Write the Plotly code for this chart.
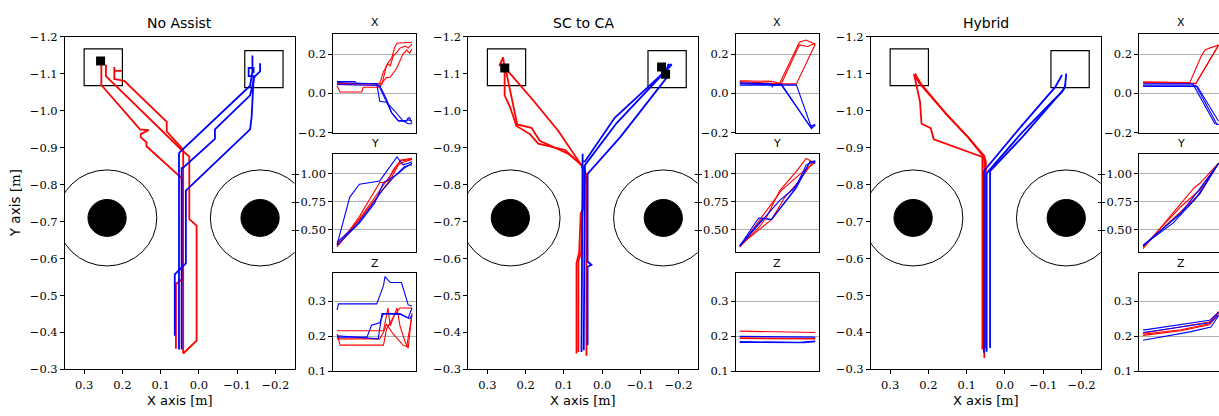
import plotly.graph_objects as go

W, H = 1219, 416

# ---------------- main trajectory panels (data in metres) ----------------
panel_titles = ["No Assist", "SC to CA", "Hybrid"]

na_red_x = [
    [0.060, 0.060, 0.044, 0.044, 0.041, 0.045, 0.137, 0.137, 0.152, 0.152, 0.131, 0.154, 0.255, 0.255],
    [0.041, 0.006, 0.006, 0.025, 0.025, 0.045, 0.243, 0.243],
    [0.041, 0.041, 0.084, 0.084, 0.195, 0.221, 0.221, 0.201, 0.221, 0.221],
]
na_red_y = [
    [-0.356, -0.531, -0.544, -0.626, -0.635, -0.818, -0.904, -0.915, -0.928, -0.937, -0.948, -0.950, -1.070, -1.125],
    [-0.343, -0.378, -0.689, -0.707, -0.876, -0.894, -1.094, -1.125],
    [-0.343, -0.895, -0.944, -0.970, -1.081, -1.086, -1.108, -1.108, -1.108, -1.119],
]
na_blue_x = [
    [0.052, 0.052, 0.049, -0.134, -0.140, -0.140],
    [0.045, 0.045, 0.041, -0.042, -0.042, -0.134, -0.143, -0.143, -0.130, -0.130, -0.143, -0.143],
    [0.063, 0.063, 0.034, 0.034, -0.134, -0.138, -0.143, -0.147, -0.160, -0.160],
]
na_blue_y = [
    [-0.354, -0.885, -0.889, -1.068, -1.107, -1.150],
    [-0.354, -0.845, -0.846, -0.924, -0.950, -1.042, -1.080, -1.094, -1.094, -1.116, -1.116, -1.102],
    [-0.391, -0.557, -0.587, -0.784, -0.950, -0.985, -1.086, -1.094, -1.107, -1.129],
]
na_goal_x = [0.257]
na_goal_y = [-1.135]

sc_red_x = [
    [0.067, 0.067, 0.060, 0.056, 0.049, 0.049, 0.054, 0.097, 0.167, 0.189, 0.224, 0.241, 0.255, 0.255, 0.268, 0.259, 0.255],
    [0.041, 0.041, 0.049, 0.115, 0.180, 0.250],
    [0.062, 0.062, 0.055, 0.052, 0.045, 0.049, 0.089, 0.163, 0.185, 0.222, 0.252, 0.255],
]
sc_red_y = [
    [-0.343, -0.587, -0.618, -0.722, -0.736, -0.836, -0.854, -0.894, -0.911, -0.937, -0.959, -1.011, -1.042, -1.116, -1.124, -1.145, -1.116],
    [-0.337, -0.827, -0.845, -0.946, -1.028, -1.112],
    [-0.347, -0.592, -0.618, -0.720, -0.832, -0.849, -0.884, -0.919, -0.954, -0.963, -1.111, -1.116],
]
sc_blue_x = [
    [0.054, 0.051, 0.051, 0.051, 0.045, -0.033, -0.160],
    [0.048, 0.045, -0.038, -0.169, -0.182, -0.173, -0.169],
    [0.038, 0.038, 0.028, 0.038, 0.038, 0.036, -0.047, -0.169],
]
sc_blue_y = [
    [-0.347, -0.862, -0.884, -0.862, -0.863, -0.981, -1.103],
    [-0.352, -0.853, -0.967, -1.112, -1.125, -1.125, -1.112],
    [-0.365, -0.578, -0.583, -0.592, -0.827, -0.832, -0.928, -1.090],
]
sc_goal_x = [0.2546, -0.1555, -0.166]
sc_goal_y = [-1.116, -1.119, -1.099]

hy_red_x = [
    [0.054, 0.054, 0.056, 0.096, 0.152, 0.222, 0.237, 0.232],
    [0.059, 0.059, 0.061, 0.186, 0.194, 0.218, 0.222, 0.237],
    [0.050, 0.050, 0.054, 0.098, 0.154, 0.220, 0.235],
]
hy_red_y = [
    [-0.331, -0.862, -0.876, -0.928, -0.990, -1.073, -1.097, -1.100],
    [-0.354, -0.873, -0.876, -0.923, -0.953, -0.965, -1.025, -1.097],
    [-0.356, -0.862, -0.878, -0.930, -0.992, -1.074, -1.100],
]
hy_blue_x = [
    [0.055, 0.055, 0.048, -0.040, -0.131, -0.149],
    [0.048, 0.048, 0.043, -0.040, -0.123, -0.149, -0.157, -0.160],
    [0.039, 0.039, -0.048, -0.155, -0.158],
]
hy_blue_y = [
    [-0.345, -0.836, -0.846, -0.955, -1.064, -1.097],
    [-0.348, -0.830, -0.837, -0.936, -1.025, -1.051, -1.068, -1.101],
    [-0.358, -0.837, -0.932, -1.060, -1.072],
]
hy_goal_x = []
hy_goal_y = []

# obstacles and goal boxes
obst_cx = [0.24, -0.16]
obst_cy = [-0.71, -0.71]
obst_outer_r = 0.13
obst_inner_r = 0.05
box_x0 = [0.20, -0.12]
box_x1 = [0.30, -0.22]
box_y0 = [-1.168, -1.163]
box_y1 = [-1.068, -1.063]

# ---------------- small time-series panels (normalised time) ----------------
# No Assist
na_xs_red_t = [[0, .04, .33, .35, .57, .60, .66, .68, .73, .77, .80, 1.0],
               [0, .57, .62, .68, .71, .75, .80, .84, .91, .95, 1.0],
               [0, .57, .66, .71, .80, .88, .93, .97, 1.0]]
na_xs_red_v = [[0.04, 0.007, 0.007, 0.031, 0.031, 0.048, 0.14, 0.155, 0.18, 0.235, 0.255, 0.26],
               [0.05, 0.05, 0.11, 0.15, 0.139, 0.19, 0.21, 0.23, 0.24, 0.23, 0.25],
               [0.045, 0.042, 0.08, 0.082, 0.13, 0.20, 0.22, 0.205, 0.225]]
na_xs_blue_t = [[0, .24, .26, .53, .57, .62, .73, .82, .91, .95, 1.0],
                [0, .53, .57, .66, .77, .88, .95, 1.0],
                [0, .40, .57, .66, .73, .82, .93, .95, .97, .99, 1.0]]
na_xs_blue_v = [[0.06, 0.06, 0.05, 0.05, 0.03, -0.01, -0.10, -0.14, -0.14, -0.135, -0.14],
                [0.055, 0.048, -0.04, -0.045, -0.09, -0.14, -0.155, -0.155],
                [0.045, 0.04, 0.04, -0.03, -0.10, -0.14, -0.14, -0.125, -0.125, -0.145, -0.15]]
na_ys_red_t = [[0, .1, .3, .57, .62, .68, .75, .85, 1.0],
               [0, .2, .4, .6, .75, .85, 1.0],
               [0, .3, .5, .7, .82, .9, 1.0]]
na_ys_red_v = [[-0.345, -0.431, -0.618, -0.92, -0.92, -0.934, -1.034, -1.121, -1.135],
               [-0.359, -0.503, -0.69, -0.876, -1.02, -1.112, -1.129],
               [-0.374, -0.589, -0.761, -0.934, -1.078, -1.106, -1.126]]
na_ys_blue_t = [[0, .17, .3, .57, .8, .88, .95, 1.0],
                [0, .3, .5, .62, .8, .9, 1.0],
                [0, .25, .45, .6, .75, .9, 1.0]]
na_ys_blue_v = [[-0.365, -0.79, -0.905, -0.934, -1.149, -1.078, -1.092, -1.106],
                [-0.359, -0.56, -0.733, -0.92, -0.991, -1.049, -1.092],
                [-0.388, -0.532, -0.704, -0.848, -0.963, -1.063, -1.078]]
na_zs_red_t = [[0, .62, .68, .71, .80, .84, .91, .95, 1.0],
               [0, .04, .62, .66, .77, .84, 1.0],
               [0, .57, .62, .66, .75, .84, .88, .93, 1.0]]
na_zs_red_v = [[0.215, 0.215, 0.28, 0.229, 0.28, 0.229, 0.183, 0.165, 0.266],
               [0.206, 0.174, 0.174, 0.22, 0.261, 0.28, 0.28],
               [0.192, 0.192, 0.211, 0.234, 0.206, 0.183, 0.174, 0.17, 0.26]]
na_zs_blue_t = [[0, .02, .53, .62, .64, .68, .71, .86, .95, 1.0],
                [0, .40, .46, .57, .62, .84, .95, 1.0],
                [0, .55, .60, .84, .97, 1.0]]
na_zs_blue_v = [[0.275, 0.292, 0.292, 0.344, 0.37, 0.36, 0.353, 0.353, 0.289, 0.286],
                [0.197, 0.197, 0.231, 0.238, 0.264, 0.264, 0.252, 0.28],
                [0.201, 0.192, 0.264, 0.262, 0.25, 0.26]]

# SC to CA
sc_xs_red_t = [[0, .42, .53, .79, .88, 1.0], [0, .49, .55, .79, .9, 1.0], [0, .75, 1.0]]
sc_xs_red_v = [[0.064, 0.061, 0.051, 0.26, 0.271, 0.25], [0.06, 0.051, 0.048, 0.246, 0.238, 0.255], [0.051, 0.048, 0.25]]
sc_xs_blue_t = [[0, .42, .43, .44, .55, .95, 1.0], [0, .55, .93, 1.0], [0, .75, .95, 1.0]]
sc_xs_blue_v = [[0.053, 0.048, 0.031, 0.04, 0.048, -0.18, -0.159], [0.048, 0.043, -0.167, -0.159], [0.041, 0.043, -0.175, -0.164]]
sc_ys_red_t = [[0, .27, .36, .53, .75, .88, 1.0], [0, .42, .6, .79, .97, 1.0], [0, .55, .79, 1.0]]
sc_ys_red_v = [[-0.345, -0.532, -0.618, -0.848, -1.02, -1.135, -1.092], [-0.359, -0.589, -0.79, -0.934, -1.106, -1.112], [-0.345, -0.848, -0.991, -1.101]]
sc_ys_blue_t = [[0, .25, .36, .42, .75, .93, 1.0], [0, .31, .42, .73, .88, 1.0], [0, .53, .71, .84, .93, 1.0]]
sc_ys_blue_v = [[-0.353, -0.603, -0.595, -0.589, -0.871, -1.106, -1.112], [-0.359, -0.603, -0.589, -0.862, -1.078, -1.112], [-0.353, -0.761, -0.862, -0.991, -1.106, -1.092]]
sc_zs_red_t = [[0, 1.0], [0, 1.0], [0, 1.0]]
sc_zs_red_v = [[0.214, 0.21], [0.193, 0.192], [0.195, 0.193]]
sc_zs_blue_t = [[0, 1.0], [0, .8, 1.0], [0, .85, 1.0]]
sc_zs_blue_v = [[0.199, 0.197], [0.184, 0.182, 0.186], [0.182, 0.181, 0.184]]

# Hybrid
hy_xs_red_t = [[0, .62, .77, .82, .88, 1.0], [0, .70, 1.0], [0, .70, 1.0]]
hy_xs_red_v = [[0.058, 0.055, 0.188, 0.221, 0.23, 0.246], [0.055, 0.051, 0.246], [0.054, 0.05, 0.244]]
hy_xs_blue_t = [[0, .66, .95, 1.0], [0, .70, .98, 1.0], [0, .72, 1.0]]
hy_xs_blue_v = [[0.048, 0.048, -0.154, -0.159], [0.041, 0.041, -0.159, -0.159], [0.035, 0.035, -0.142]]
hy_ys_red_t = [[0, .6, .68, .75, 1.0], [0, .5, .75, 1.0], [0, .75, 1.0]]
hy_ys_red_v = [[-0.33, -0.819, -0.876, -0.911, -1.092], [-0.345, -0.704, -0.853, -1.092], [-0.345, -0.819, -1.092]]
hy_ys_blue_t = [[0, .5, .7, 1.0], [0, .6, .75, 1.0], [0, .4, .7, 1.0]]
hy_ys_blue_v = [[-0.359, -0.647, -0.819, -1.092], [-0.353, -0.704, -0.819, -1.092], [-0.36, -0.56, -0.78, -1.09]]
hy_zs_red_t = [[0, .5, .88, .95, 1.0], [0, .5, .88, 1.0], [0, .88, 1.0]]
hy_zs_red_v = [[0.205, 0.218, 0.235, 0.25, 0.27], [0.202, 0.215, 0.232, 0.265], [0.208, 0.24, 0.268]]
hy_zs_blue_t = [[0, .88, 1.0], [0, .88, 1.0], [0, .62, .9, 1.0]]
hy_zs_blue_v = [[0.217, 0.245, 0.268], [0.21, 0.238, 0.26], [0.188, 0.212, 0.226, 0.258]]

small_titles = ["X", "Y", "Z"]
small_ticks = [[-0.2, 0.0, 0.2], [-1.00, -0.75, -0.50], [0.1, 0.2, 0.3]]
small_fmt = [".1f", ".2f", ".1f"]
small_ranges = [[-0.2, 0.3], [-0.296, -1.178], [0.1, 0.381]]

main_data = [
    (na_red_x, na_red_y, na_blue_x, na_blue_y, na_goal_x, na_goal_y),
    (sc_red_x, sc_red_y, sc_blue_x, sc_blue_y, sc_goal_x, sc_goal_y),
    (hy_red_x, hy_red_y, hy_blue_x, hy_blue_y, hy_goal_x, hy_goal_y),
]
small_data = [
    [(na_xs_red_t, na_xs_red_v, na_xs_blue_t, na_xs_blue_v),
     (na_ys_red_t, na_ys_red_v, na_ys_blue_t, na_ys_blue_v),
     (na_zs_red_t, na_zs_red_v, na_zs_blue_t, na_zs_blue_v)],
    [(sc_xs_red_t, sc_xs_red_v, sc_xs_blue_t, sc_xs_blue_v),
     (sc_ys_red_t, sc_ys_red_v, sc_ys_blue_t, sc_ys_blue_v),
     (sc_zs_red_t, sc_zs_red_v, sc_zs_blue_t, sc_zs_blue_v)],
    [(hy_xs_red_t, hy_xs_red_v, hy_xs_blue_t, hy_xs_blue_v),
     (hy_ys_red_t, hy_ys_red_v, hy_ys_blue_t, hy_ys_blue_v),
     (hy_zs_red_t, hy_zs_red_v, hy_zs_blue_t, hy_zs_blue_v)],
]

# ---------------- layout geometry (pixels) ----------------
main_px = [(65, 294.5), (468.3, 697.7), (871, 1100.7)]
main_py = (31, 375)
small_px = [(333.3, 415.7), (736, 819), (1139.3, 1219)]
small_py = [(28.3, 130), (151.7, 254), (275, 376.7)]

def dx(a, b):
    return [a / W, min(b / W, 1.0)]

def dy(a, b):
    return [1 - b / H, 1 - a / H]

RED = "#ff0000"
BLUE = "#0000ff"
TICKFONT = dict(family="DejaVu Serif", size=11.5, color="black")
SANS = "DejaVu Sans"

fig = go.Figure()
layout = dict(width=W, height=H, margin=dict(l=0, r=0, t=0, b=0),
              paper_bgcolor="white", plot_bgcolor="white", showlegend=False)
shapes = []
annotations = []

for i in range(3):
    ax = 1 + i
    xa, ya = f"x{ax}" if ax > 1 else "x", f"y{ax}" if ax > 1 else "y"
    rx, ry, bx, by, gx, gy = main_data[i]
    for px_, py_ in zip(rx, ry):
        fig.add_trace(go.Scatter(x=px_, y=py_, mode="lines", line=dict(color=RED, width=1.8),
                                 xaxis=xa, yaxis=ya, hoverinfo="skip"))
    for px_, py_ in zip(bx, by):
        fig.add_trace(go.Scatter(x=px_, y=py_, mode="lines", line=dict(color=BLUE, width=1.8),
                                 xaxis=xa, yaxis=ya, hoverinfo="skip"))
    if gx:
        fig.add_trace(go.Scatter(x=gx, y=gy, mode="markers",
                                 marker=dict(symbol="square", size=9, color="black"),
                                 xaxis=xa, yaxis=ya, hoverinfo="skip"))
    for cx, cy in zip(obst_cx, obst_cy):
        shapes.append(dict(type="circle", xref=xa, yref=ya, x0=cx - obst_outer_r, x1=cx + obst_outer_r,
                           y0=cy - obst_outer_r, y1=cy + obst_outer_r, line=dict(color="black", width=1),
                           layer="below"))
        shapes.append(dict(type="circle", xref=xa, yref=ya, x0=cx - obst_inner_r, x1=cx + obst_inner_r,
                           y0=cy - obst_inner_r, y1=cy + obst_inner_r, line=dict(color="black", width=1),
                           fillcolor="black", layer="below"))
    for x0, x1, y0, y1 in zip(box_x0, box_x1, box_y0, box_y1):
        shapes.append(dict(type="rect", xref=xa, yref=ya, x0=x0, x1=x1, y0=y0, y1=y1,
                           line=dict(color="black", width=1.2), layer="below"))
    layout[f"xaxis{ax}" if ax > 1 else "xaxis"] = dict(
        domain=dx(*main_px[i]), range=[0.35, -0.25], anchor=ya,
        tickvals=[0.3, 0.2, 0.1, 0.0, -0.1, -0.2], tickformat=".1f",
        showline=True, linecolor="black", linewidth=1, mirror=True,
        ticks="outside", ticklen=4, tickcolor="black", showgrid=False, zeroline=False,
        ticklabelstandoff=1, tickfont=TICKFONT)
    layout[f"yaxis{ax}" if ax > 1 else "yaxis"] = dict(
        domain=dy(*main_py), range=[-0.3, -1.2], anchor=xa,
        tickvals=[-1.2, -1.1, -1.0, -0.9, -0.8, -0.7, -0.6, -0.5, -0.4, -0.3], tickformat=".1f",
        showline=True, linecolor="black", linewidth=1, mirror=True,
        ticks="outside", ticklen=4, tickcolor="black", showgrid=False, zeroline=False,
        tickfont=TICKFONT)
    cx_paper = (main_px[i][0] + main_px[i][1]) / 2 / W
    annotations.append(dict(text=panel_titles[i], x=cx_paper, y=1 - 17 / H, xref="paper", yref="paper",
                            showarrow=False, font=dict(family=SANS, size=14, color="black"),
                            xanchor="center", yanchor="middle"))
    annotations.append(dict(text="X axis <span style='font-family:DejaVu Serif'>[m]</span>",
                            x=cx_paper, y=0, xref="paper", yref="paper",
                            showarrow=False, font=dict(family=SANS, size=13, color="black"),
                            xanchor="center", yanchor="bottom", borderpad=0, yshift=0))

    # small panels
    for j in range(3):
        ax = 4 + 3 * i + j
        xa, ya = f"x{ax}", f"y{ax}"
        rt, rv, bt, bv = small_data[i][j]
        for t_, v_ in zip(rt, rv):
            fig.add_trace(go.Scatter(x=t_, y=v_, mode="lines", line=dict(color=RED, width=1.1),
                                     xaxis=xa, yaxis=ya, hoverinfo="skip"))
        for t_, v_ in zip(bt, bv):
            fig.add_trace(go.Scatter(x=t_, y=v_, mode="lines", line=dict(color=BLUE, width=1.1),
                                     xaxis=xa, yaxis=ya, hoverinfo="skip"))
        last = (i == 2)
        xr = [-0.05, 1.006] if last else [-0.05, 1.05]
        layout[f"xaxis{ax}"] = dict(domain=dx(*small_px[i]), range=xr, anchor=ya,
                                    showticklabels=False, ticks="", showgrid=False, zeroline=False,
                                    showline=True, linecolor="black", linewidth=1, mirror=True)
        layout[f"yaxis{ax}"] = dict(domain=dy(*small_py[j]), range=small_ranges[j], anchor=xa,
                                    tickvals=small_ticks[j], tickformat=small_fmt[j],
                                    showline=True, linecolor="black", linewidth=1,
                                    mirror=(False if last else True),
                                    ticks="outside", ticklen=4, tickcolor="black",
                                    showgrid=True, gridcolor="#b0b0b0", gridwidth=1, zeroline=False,
                                    tickfont=TICKFONT)
        scx = (small_px[i][0] + (small_px[i][0] + 83)) / 2 / W
        ty = [16, 141, 265][j]
        annotations.append(dict(text=small_titles[j], x=scx, y=1 - ty / H, xref="paper", yref="paper",
                                showarrow=False, font=dict(family=SANS, size=11, color="black"),
                                xanchor="center", yanchor="middle"))

annotations.append(dict(text="Y axis <span style='font-family:DejaVu Serif'>[m]</span>",
                        x=15 / W, y=1 - 203 / H, xref="paper", yref="paper", textangle=-90,
                        showarrow=False, font=dict(family=SANS, size=13.5, color="black"),
                        xanchor="center", yanchor="middle"))

layout["shapes"] = shapes
layout["annotations"] = annotations
fig.update_layout(**layout)
fig.write_html("out.html")
